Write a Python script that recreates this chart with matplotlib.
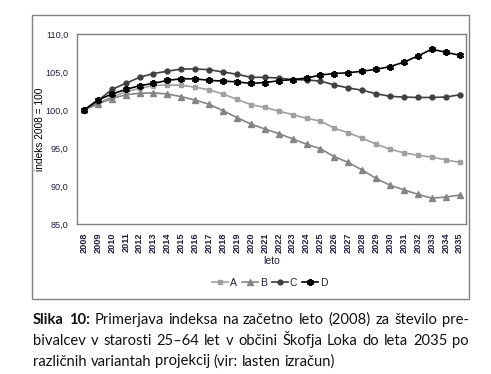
import matplotlib
matplotlib.use("Agg")
import matplotlib.pyplot as plt
from matplotlib.patches import Rectangle

years = [str(y) for y in range(2008, 2036)]

var_a = [100.0, 100.9, 101.7, 102.4, 102.85, 103.2, 103.3, 103.25, 103.0, 102.65,
         102.1, 101.4, 100.7, 100.35, 99.85, 99.4, 98.9, 98.55, 97.6, 97.0,
         96.3, 95.5, 94.85, 94.35, 94.05, 93.8, 93.45, 93.1]
var_b = [100.0, 100.8, 101.5, 102.0, 102.2, 102.25, 102.1, 101.75, 101.3, 100.75,
         99.9, 99.0, 98.15, 97.5, 96.9, 96.2, 95.5, 94.9, 93.85, 93.1,
         92.1, 91.0, 90.1, 89.5, 88.9, 88.4, 88.55, 88.8]
var_c = [100.0, 101.2, 102.7, 103.5, 104.3, 104.8, 105.1, 105.4, 105.4, 105.3,
         105.0, 104.7, 104.3, 104.3, 104.2, 104.0, 103.95, 103.8, 103.3, 102.9,
         102.6, 102.15, 101.8, 101.7, 101.65, 101.65, 101.7, 102.0]
var_d = [100.0, 101.3, 102.1, 102.7, 103.2, 103.5, 103.9, 104.1, 104.1, 103.9,
         103.8, 103.7, 103.5, 103.6, 103.85, 104.0, 104.2, 104.6, 104.8, 104.9,
         105.1, 105.35, 105.7, 106.3, 107.1, 108.0, 107.6, 107.2]

y_ticks = [85, 90, 95, 100, 105, 110]
y_tick_labels = ["85,0", "90,0", "95,0", "100,0", "105,0", "110,0"]

caption_lines = [
    "Primerjava indeksa na začetno leto (2008) za število pre-",
    "bivalcev v starosti 25–64 let v občini Škofja Loka do leta 2035 po",
    "različnih variantah projekcij (vir: lasten izračun)",
]

txt_col = "#202040"
narrow = ["Liberation Sans", "DejaVu Sans"]

fig = plt.figure(figsize=(4.91, 3.74), dpi=100)
fig.patch.set_facecolor("white")

# outer chart frame
fig.add_artist(Rectangle((0.0642, 0.2005), 0.8908, 0.7595, transform=fig.transFigure,
                         fill=False, edgecolor="#808080", linewidth=1.0))

ax = fig.add_axes([0.1568, 0.4011, 0.7933, 0.508])
x = list(range(len(years)))
ax.plot(x, var_a, color="#a0a0a0", marker="s", markersize=3.5, linewidth=1.2, label="A")
ax.plot(x, var_b, color="#858585", marker="^", markersize=4.2, linewidth=1.2, label="B")
ax.plot(x, var_c, color="#404040", marker="o", markersize=3.5, linewidth=1.2, label="C")
ax.plot(x, var_d, color="#000000", marker=(6, 2, 0), markersize=5, markeredgewidth=1.6,
        linewidth=1.2, label="D")

ax.set_xlim(-0.5, len(years) - 0.5)
ax.set_ylim(85, 110)
ax.set_yticks(y_ticks)
ax.set_yticklabels(y_tick_labels, family=narrow, fontsize=6.6, color=txt_col)
ax.set_xticks(x)
ax.set_xticklabels(years, rotation=90, family=narrow, fontsize=6.6, fontweight="bold",
                   color=txt_col)
ax.tick_params(length=0, pad=6)
ax.tick_params(axis="y", pad=6)
for s in ax.spines.values():
    s.set_color("#808080")
    s.set_linewidth(1.0)
ax.set_ylabel("indeks 2008 = 100", family=narrow, fontsize=7.3, color="black")
ax.yaxis.set_label_coords(-0.082, 0.5)
ax.set_xlabel("leto", family=narrow, fontsize=7.5, color=txt_col, labelpad=2)

leg = fig.legend(loc="center", bbox_to_anchor=(0.55, 0.243), ncol=4, frameon=False,
                 handlelength=1.5, handletextpad=0.2, columnspacing=0.5,
                 prop={"family": narrow, "size": 7.5})
for t in leg.get_texts():
    t.set_color(txt_col)

# caption, justified like in the source document
cap_font = {"family": ["Lato", "DejaVu Sans"], "size": 10.6, "color": "#111111"}
left_px, right_px = 33.0, 469.0
W, H = fig.get_size_inches() * fig.dpi
line_y = [324.0, 345.0, 365.5]
fig.canvas.draw()
renderer = fig.canvas.get_renderer()


def word_width(s, bold=False):
    t = fig.text(0, 0, s, fontweight="bold" if bold else "normal", **cap_font)
    w = t.get_window_extent(renderer).width
    t.remove()
    return w


for i, line in enumerate(caption_lines):
    words = line.split(" ")
    bolds = [False] * len(words)
    if i == 0:
        words = ["Slika", "10:"] + words
        bolds = [True, True] + bolds
    widths = [word_width(w, b) for w, b in zip(words, bolds)]
    if i < len(caption_lines) - 1:
        gap = (right_px - left_px - sum(widths)) / (len(words) - 1)
    else:
        gap = word_width("a b") - word_width("ab")
    xp = left_px
    for w, b, wd in zip(words, bolds, widths):
        fig.text(xp / W, 1 - line_y[i] / H, w, ha="left", va="baseline",
                 fontweight="bold" if b else "normal", **cap_font)
        xp += wd + gap

fig.savefig("out.png", dpi=100, facecolor="white")
